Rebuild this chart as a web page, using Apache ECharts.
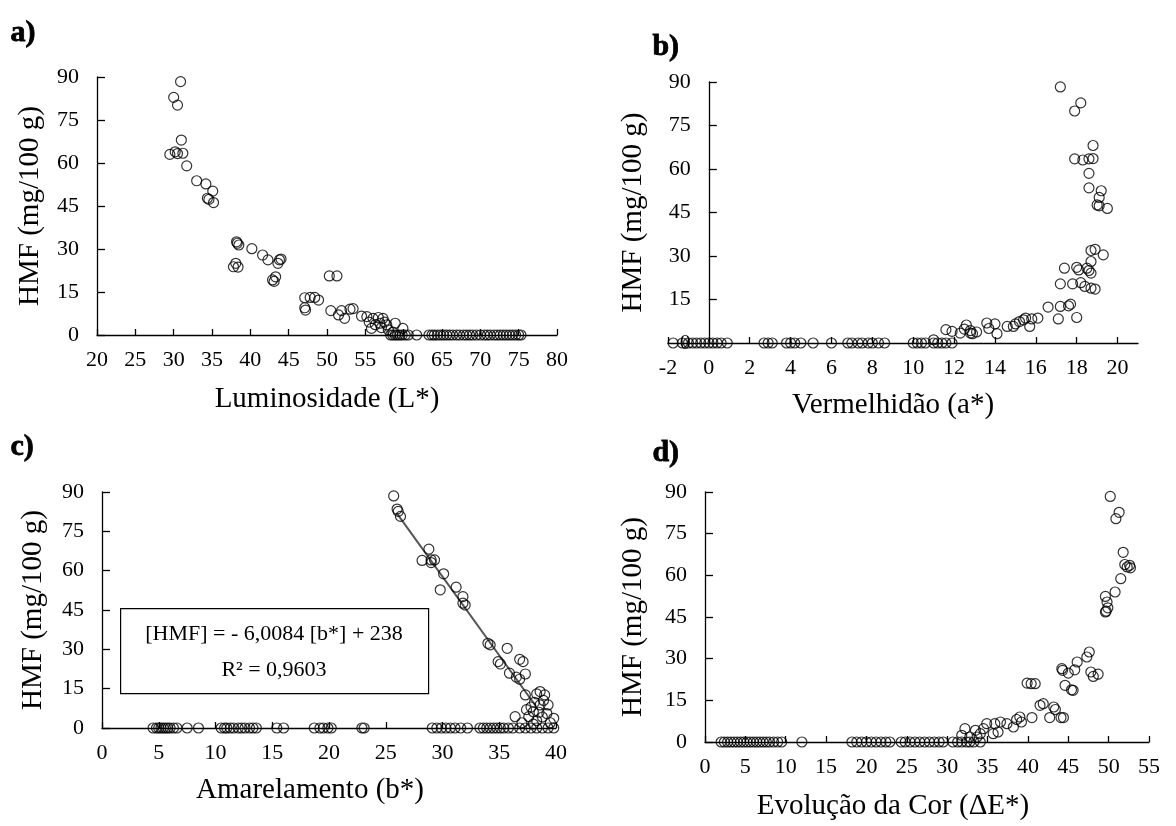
<!DOCTYPE html>
<html><head><meta charset="utf-8">
<script src="https://cdn.jsdelivr.net/npm/echarts@6/dist/echarts.min.js"></script>
<style>html,body{margin:0;padding:0;background:#fff}#c{width:1176px;height:826px}</style>
</head><body><div id="c"></div><script>
// ---------- data ----------
const hmfName = 'HMF (mg/100 g)';
const panelLetters = ['a)', 'b)', 'c)', 'd)'];
const xNames = ['Luminosidade (L*)', 'Vermelhidão (a*)', 'Amarelamento (b*)', 'Evolução da Cor (ΔE*)'];
const bTickValues = [-2, 0, 2, 4, 6, 8, 10, 12, 14, 16, 18, 20];

// panel a: [L*, HMF]
const pointsL = [
 [30.9,88.4],[30.0,82.9],[30.5,80.2],[31.0,68.0],[29.5,63.0],[30.2,63.9],[30.5,63.3],[31.2,63.4],[31.7,59.0],
 [33.0,53.8],[34.2,52.7],[35.1,50.2],[34.4,47.7],[34.6,47.3],[35.2,46.2],[38.2,32.5],[38.3,32.0],[38.5,31.4],
 [40.2,30.1],[41.6,27.9],[42.3,26.2],[37.8,23.8],[38.1,25.0],[38.4,23.7],[43.8,26.2],[44.0,26.5],[43.6,25.0],
 [42.9,19.2],[43.1,18.7],[43.3,20.3],[47.1,13.0],[47.8,13.1],[48.4,13.1],[48.9,12.2],[47.2,8.7],[47.1,9.5],
 [50.3,20.6],[51.3,20.6],[50.5,8.5],[51.9,8.5],[52.3,5.8],[51.5,7.0],[53.0,9.0],[53.4,9.2],[54.5,6.6],[55.2,6.4],
 [56.0,5.8],[56.7,6.1],[57.3,5.8],[55.8,2.3],[56.9,4.1],[57.8,3.5],[58.9,4.1],[59.9,2.3],[56.3,3.6],[57.1,2.6],
 [58.0,1.8],[58.6,1.0],[57.5,4.5],[55.5,4.5],
 [58.3,0],[58.6,0],[58.9,0],[59.2,0],[59.5,0],[59.8,0],[60.2,0],[60.6,0],[61.7,0],
 [63.3,0],[63.7,0],[64.0,0],[64.4,0],[64.8,0],[65.2,0],[65.6,0],[66.0,0],[66.4,0],[66.9,0],[67.3,0],[67.8,0],
 [68.2,0],[68.6,0],[69.0,0],[69.5,0],[70.0,0],[70.5,0],[70.9,0],[71.3,0],[71.8,0],[72.2,0],[72.6,0],[73.0,0],
 [73.4,0],[73.8,0],[74.2,0],[74.6,0],[75.0,0],[75.3,0]
];

// panel b: [a*, HMF]
const pointsA = [
 [17.2,88.3],[18.2,82.8],[17.9,80.0],[18.8,68.1],[17.9,63.5],[18.3,63.1],[18.6,63.5],[18.8,63.6],[18.6,58.5],
 [18.6,53.5],[19.2,52.5],[19.1,50.2],[19.0,47.6],[19.1,47.3],[19.5,46.4],[18.7,31.9],[18.9,32.3],[19.3,30.4],
 [18.7,28.1],[17.4,25.8],[18.0,26.1],[18.1,25.2],[18.5,25.8],[18.7,24.1],[18.6,25.0],[17.2,20.4],[17.8,20.4],
 [18.2,20.8],[18.4,19.5],[18.7,18.9],[18.9,18.6],[16.6,12.4],[17.2,12.6],[17.6,12.8],[17.7,13.4],[17.1,8.3],
 [18.0,8.8],[16.1,8.6],[15.8,8.3],[15.5,8.6],[15.4,8.0],[15.2,7.4],[15.0,6.6],[14.9,5.7],[15.7,5.7],[14.6,5.7],
 [14.0,6.6],[14.1,3.2],[13.6,6.9],[13.7,5.0],[12.6,6.2],[12.8,3.4],[12.9,3.2],[12.3,3.4],[11.9,4.0],[11.6,4.6],
 [11.0,1.1],[12.8,4.3],[12.5,4.8],[13.1,3.8],
 [-1.75,0],[-1.3,0],[-1.0,0],[-0.8,0],[-0.6,0],[-0.4,0],[-0.2,0],[0.0,0],[0.2,0],[0.4,0],[0.6,0],[0.9,0],
 [2.7,0],[2.9,0],[3.1,0],[3.8,0],[4.0,0],[4.2,0],[4.5,0],[5.1,0],[6.0,0],[6.8,0],[7.0,0],[7.3,0],[7.5,0],
 [7.8,0],[8.0,0],[8.3,0],[8.6,0],[10.0,0],[10.2,0],[10.4,0],[10.6,0],[11.0,0],[11.2,0],[11.4,0],[11.6,0],[11.9,0]
];

// panel c: [b*, HMF]
const pointsB = [
 [25.7,88.5],[26.0,83.5],[26.1,82.6],[26.3,80.7],[28.8,68.2],[28.2,63.9],[29.0,64.1],[29.3,64.1],[29.0,63.1],
 [30.1,58.8],[29.8,52.7],[31.2,53.7],[31.8,50.1],[31.8,47.6],[32.0,46.9],[34.0,32.3],[34.2,31.7],[35.7,30.4],
 [35.1,24.4],[34.9,25.3],[36.8,26.2],[37.1,25.3],[37.3,20.6],[36.5,19.4],[36.8,18.6],[35.9,20.9],[37.3,12.6],
 [38.3,13.0],[38.6,13.9],[39.0,12.6],[39.3,8.8],[38.6,8.8],[38.0,6.2],[37.6,4.3],[39.8,3.7],[38.3,2.8],
 [36.4,4.3],[38.9,10.5],[38.1,9.8],[37.8,8.0],[38.5,6.0],[39.2,5.5],[37.4,7.0],[38.8,4.2],[37.0,2.0],
 [39.5,2.0],[38.0,1.5],
 [4.5,0],[4.8,0],[5.0,0],[5.2,0],[5.4,0],[5.6,0],[5.8,0],[6.0,0],[6.3,0],[6.6,0],[7.5,0],[8.5,0],
 [10.5,0],[10.8,0],[11.0,0],[11.3,0],[11.6,0],[12.0,0],[12.3,0],[12.6,0],[13.0,0],[13.3,0],[13.6,0],
 [15.4,0],[16.0,0],[18.7,0],[19.2,0],[19.5,0],[19.9,0],[20.2,0],[22.9,0],[23.1,0],
 [29.1,0],[29.5,0],[29.9,0],[30.3,0],[30.7,0],[31.1,0],[31.6,0],[32.2,0],
 [33.3,0],[33.6,0],[33.9,0],[34.2,0],[34.5,0],[34.8,0],[35.1,0],[35.4,0],[35.8,0],[36.2,0],
 [36.8,0],[37.3,0],[37.8,0],[38.3,0],[38.8,0],[39.3,0],[39.8,0]
];

// panel d: [ΔE*, HMF]
const pointsE = [
 [50.2,88.4],[51.3,82.7],[50.9,80.4],[51.8,68.3],[52.0,63.9],[52.6,63.6],[52.7,62.7],[52.3,63.0],[51.5,58.8],
 [50.8,54.0],[49.6,52.4],[49.8,50.4],[49.9,48.3],[49.7,47.1],[49.6,46.8],[47.6,32.4],[47.3,30.6],[46.1,28.8],
 [45.8,26.0],[44.2,26.4],[44.3,25.8],[45.0,24.8],[47.8,25.2],[48.7,24.4],[48.1,23.6],[44.6,20.4],[45.4,18.8],
 [45.6,18.6],[39.9,21.2],[40.4,21.0],[40.9,21.0],[41.5,13.2],[41.9,13.8],[43.2,12.6],[43.4,11.7],[42.7,8.8],
 [44.1,8.8],[44.4,8.8],[40.5,8.8],[39.0,9.0],[39.2,7.2],[38.6,8.1],[38.2,5.4],[37.4,6.6],[36.6,7.2],[35.9,6.6],
 [36.3,3.6],[35.7,3.0],[34.9,6.6],[34.5,4.8],[34.1,3.0],[33.7,1.8],[33.5,4.2],[32.2,4.8],[31.8,2.4],[32.8,1.8],
 [2.0,0],[2.4,0],[2.8,0],[3.2,0],[3.6,0],[4.0,0],[4.4,0],[4.8,0],[5.2,0],[5.6,0],[6.0,0],[6.4,0],[6.8,0],
 [7.2,0],[7.6,0],[8.0,0],[8.5,0],[9.0,0],[9.5,0],[12.0,0],
 [18.2,0],[18.8,0],[19.4,0],[20.0,0],[20.6,0],[21.2,0],[21.8,0],[22.4,0],[22.9,0],
 [24.3,0],[24.8,0],[25.4,0],[26.0,0],[26.6,0],[27.2,0],[27.8,0],[28.4,0],[29.0,0],[29.5,0],
 [30.7,0],[31.3,0],[31.8,0],[32.4,0],[32.8,0],[33.3,0],[34.1,0]
];

// regression shown in panel c
const regSlope = -6.0084;
const regIntercept = 238;
const regRange = [26.0, 38.2];
const regText = ['[HMF] = - 6,0084 [b*] + 238', 'R² = 0,9603'];

// ---------- chart ----------
const FONT = '"Liberation Serif", "Times New Roman", serif';
const regLine = regRange.map(x => [x, regIntercept + regSlope * x]);

const grids = [
  {left: 97, top: 77, width: 460, height: 258},
  {left: 668, top: 82, width: 470, height: 261},
  {left: 102, top: 492, width: 454, height: 236},
  {left: 705, top: 492, width: 444, height: 250}
];
const xCfg = [
  {min: 20, max: 80, interval: 5, nameGap: 50, pad: [0,0,0,0]},
  {min: -2, max: 21, interval: 2, nameGap: 48, pad: [0,20,0,0]},
  {min: 0, max: 40, interval: 5, nameGap: 48, pad: [0,38,0,0]},
  {min: 0, max: 55, interval: 5, nameGap: 50, pad: [0,68,0,0]}
];
const yGap = [52, 61, 54, 57];
// panel b: the y axis sits at a* = 0, i.e. 2 units right of the grid's left edge
const yOffset = [0, -(grids[1].width * 2 / 23), 0, 0];

const axisLineBase = {show: true, lineStyle: {color: '#000', width: 1.3}};
const axisTick = {show: true, inside: true, length: 6, lineStyle: {color: '#000', width: 1.3}};
const label = {color: '#000', fontFamily: FONT, fontSize: 22};
const nameStyle = {color: '#000', fontFamily: FONT, fontSize: 29};

const xAxis = xCfg.map((c, i) => {
  const ax = {
    type: 'value', gridIndex: i, min: c.min, max: c.max, interval: c.interval,
    name: xNames[i], nameLocation: 'middle', nameGap: c.nameGap,
    nameTextStyle: Object.assign({padding: c.pad}, nameStyle),
    axisLine: Object.assign({onZero: false}, axisLineBase),
    axisTick: Object.assign({}, axisTick),
    axisLabel: Object.assign({margin: 14}, label),
    splitLine: {show: false}
  };
  if (i === 1) {
    ax.axisLabel.customValues = bTickValues;
    ax.axisTick.customValues = bTickValues;
  }
  return ax;
});
const yAxis = grids.map((g, i) => ({
  type: 'value', gridIndex: i, min: 0, max: 90, interval: 15,
  offset: yOffset[i],
  name: hmfName, nameLocation: 'middle', nameGap: yGap[i], nameRotate: 90,
  nameTextStyle: nameStyle,
  axisLine: Object.assign({onZero: false}, axisLineBase),
  axisTick: Object.assign({}, axisTick, {length: 8}),
  axisLabel: Object.assign({margin: 18}, label),
  splitLine: {show: false}
}));

const scatterStyle = {
  type: 'scatter', symbol: 'circle', symbolSize: 10,
  itemStyle: {color: 'rgba(0,0,0,0)', borderColor: '#000', borderWidth: 1.2},
  z: 3
};
const series = [pointsL, pointsA, pointsB, pointsE].map((d, i) =>
  Object.assign({}, scatterStyle, {xAxisIndex: i, yAxisIndex: i, data: d}));
series.push({
  type: 'line', xAxisIndex: 2, yAxisIndex: 2, data: regLine, symbol: 'none',
  lineStyle: {color: '#555', width: 2}, z: 2
});

const letterPos = [[10, 18], [652, 32], [10, 432], [652, 438]];
const graphic = letterPos.map((p, i) => ({
  type: 'text', left: p[0], top: p[1],
  style: {text: panelLetters[i], font: 'bold 30px ' + FONT, fill: '#000', stroke: '#000', lineWidth: 0.8}
}));
graphic.push({
  type: 'rect', left: 120, top: 608, shape: {width: 308, height: 85},
  style: {fill: '#fff', stroke: '#000', lineWidth: 1.2}, z: 10
});
graphic.push({
  type: 'text', x: 274, y: 634, z: 11,
  style: {text: regText[0], font: '22px ' + FONT, fill: '#000', align: 'center', verticalAlign: 'middle'}
});
graphic.push({
  type: 'text', x: 274, y: 670, z: 11,
  style: {text: regText[1], font: '22px ' + FONT, fill: '#000', align: 'center', verticalAlign: 'middle'}
});

const chart = echarts.init(document.getElementById('c'), null, {renderer: 'canvas'});
chart.setOption({
  animation: false,
  backgroundColor: '#fff',
  grid: grids,
  xAxis, yAxis, series, graphic
});
</script></body></html>
